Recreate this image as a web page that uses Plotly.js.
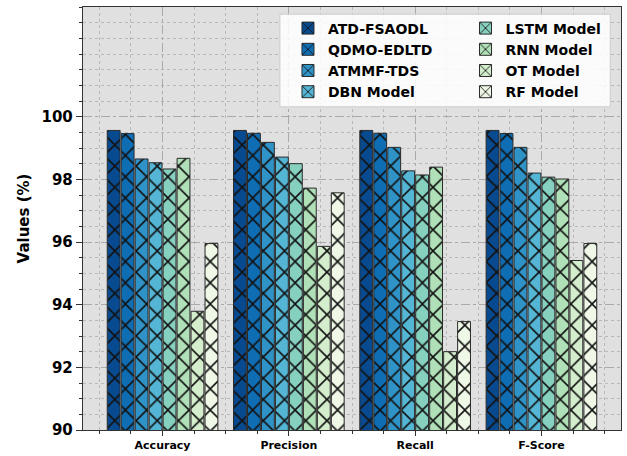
<!DOCTYPE html>
<html><head><meta charset="utf-8">
<script src="https://cdn.plot.ly/plotly-3.0.1.min.js"></script>
<style>html,body{margin:0;padding:0;background:#fff}</style>
</head><body><div id="chart" style="width:627px;height:456px"></div>
<script>
const categories = ['Accuracy', 'Precision', 'Recall', 'F-Score'];
const models = ['ATD-FSAODL', 'QDMO-EDLTD', 'ATMMF-TDS', 'DBN Model', 'LSTM Model', 'RNN Model', 'OT Model', 'RF Model'];
const atdFsaodl = [99.56, 99.56, 99.56, 99.56];
const qdmoEdltd = [99.46, 99.47, 99.47, 99.46];
const atmmfTds  = [98.65, 99.18, 99.02, 99.02];
const dbnModel  = [98.53, 98.71, 98.27, 98.20];
const lstmModel = [98.33, 98.50, 98.14, 98.07];
const rnnModel  = [98.67, 97.72, 98.39, 98.01];
const otModel   = [93.79, 95.86, 92.50, 95.41];
const rfModel   = [95.95, 97.57, 93.46, 95.95];
const yTickVals = [90, 92, 94, 96, 98, 100];

const series = [atdFsaodl, qdmoEdltd, atmmfTds, dbnModel, lstmModel, rnnModel, otModel, rfModel];
const colors = ['#084a8f', '#0f6db3', '#2f93c7', '#54b6d4', '#86d0c0', '#b0e0b8', '#d4eecd', '#eff8e7'];
const xIdx = categories.map((c, i) => i);

const font = {family: 'DejaVu Sans', weight: 'bold', color: '#000'};

const traces = series.map((vals, i) => ({
  type: 'bar',
  name: models[i],
  x: xIdx,
  y: vals,
  legend: i < 4 ? 'legend' : 'legend2',
  marker: {
    color: colors[i],
    line: {color: '#2a2a2a', width: 1},
    pattern: {shape: 'x', size: 15, solidity: 0.2, fgcolor: '#111', fgopacity: 1,
              bgcolor: colors[i], fillmode: 'replace'}
  },
  hoverinfo: 'skip'
}));

const legendCommon = {
  font: Object.assign({}, font, {size: 14}),
  bgcolor: 'rgba(0,0,0,0)',
  borderwidth: 0,
  xanchor: 'left', yanchor: 'top',
  tracegroupgap: 0, itemwidth: 30
};

const layout = {
  width: 627, height: 456,
  margin: {l: 83, r: 6, t: 7, b: 26},
  paper_bgcolor: '#fff',
  plot_bgcolor: '#e0e0e0',
  barmode: 'group',
  bargap: 0.115,
  bargroupgap: 0.08,
  showlegend: true,
  legend: Object.assign({}, legendCommon, {x: 0.381, y: 0.987}),
  legend2: Object.assign({}, legendCommon, {x: 0.711, y: 0.987}),
  xaxis: {
    range: [-0.63, 3.63],
    tickmode: 'array', tickvals: xIdx, ticktext: categories,
    ticks: 'outside', ticklen: 5, tickwidth: 1, tickcolor: '#333',
    tickfont: Object.assign({}, font, {size: 11}),
    showline: true, linecolor: '#333', linewidth: 1.2, mirror: true,
    showgrid: true, gridcolor: '#aaaaaa', gridwidth: 1, griddash: 'dashdot',
    zeroline: false,
    minor: {tickmode: 'linear', tick0: 0, dtick: 0.25, ticks: 'outside', ticklen: 3, tickcolor: '#333',
            showgrid: true, gridcolor: '#b8b8b8', gridwidth: 1, griddash: 'dot'}
  },
  yaxis: {
    range: [90, 103.5],
    tickmode: 'array', tickvals: yTickVals,
    ticks: 'outside', ticklen: 6, tickwidth: 1, tickcolor: '#333',
    tickfont: Object.assign({}, font, {size: 15}),
    showline: true, linecolor: '#333', linewidth: 1.2, mirror: true,
    showgrid: true, gridcolor: '#aaaaaa', gridwidth: 1, griddash: 'dashdot',
    zeroline: false,
    title: {text: 'Values (%)', font: Object.assign({}, font, {size: 15}), standoff: 8},
    minor: {tickmode: 'linear', tick0: 90, dtick: 0.5, ticks: 'outside', ticklen: 3, tickcolor: '#333',
            showgrid: true, gridcolor: '#b8b8b8', gridwidth: 1, griddash: 'dot'}
  },
  shapes: [{
    type: 'rect', xref: 'paper', yref: 'paper', layer: 'above',
    x0: 0.366, x1: 0.980, y0: 0.764, y1: 0.983,
    fillcolor: 'rgba(255,255,255,0.85)', line: {color: '#cccccc', width: 1}
  }]
};

Plotly.newPlot('chart', traces, layout, {displayModeBar: false, staticPlot: true});
</script></body></html>
